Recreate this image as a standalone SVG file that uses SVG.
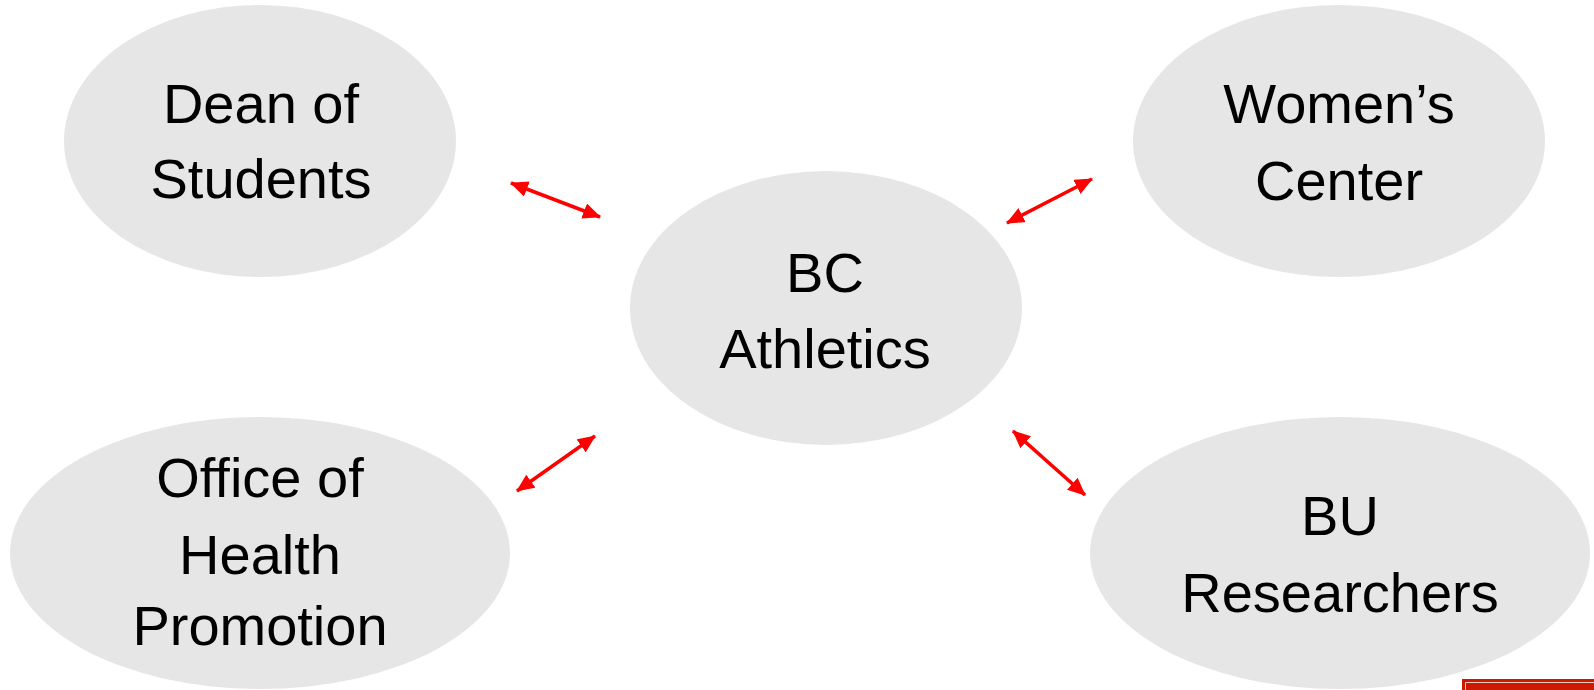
<svg xmlns="http://www.w3.org/2000/svg" width="1594" height="690" viewBox="0 0 1594 690">
<style>
.node ellipse{fill:#e6e6e6;stroke:none}
.node text{font-family:"Liberation Sans",Arial,sans-serif;font-size:56px;fill:#000;text-anchor:middle}
.conn line{stroke:#ff0000;stroke-width:3.5;marker-start:url(#ah);marker-end:url(#ah)}
</style>
<defs>
<marker id="ah" viewBox="0 0 18 16" markerWidth="18" markerHeight="16" refX="17" refY="8" markerUnits="userSpaceOnUse" orient="auto-start-reverse">
<path d="M0,0 L18,8 L0,16 z" fill="#ff0000"/>
</marker>
</defs>
<rect width="1594" height="690" fill="#ffffff"/>
<g id="dean" class="node">
<ellipse cx="260" cy="141" rx="196" ry="136"/>
<text x="261" y="123">Dean of</text>
<text x="261" y="198">Students</text>
</g>
<g id="womens" class="node">
<ellipse cx="1339" cy="141" rx="206" ry="136"/>
<text x="1339" y="123">Women’s</text>
<text x="1339" y="200">Center</text>
</g>
<g id="bc" class="node">
<ellipse cx="826" cy="308" rx="196" ry="137"/>
<text x="825" y="292">BC</text>
<text x="825" y="368">Athletics</text>
</g>
<g id="office" class="node">
<ellipse cx="260" cy="553" rx="250" ry="136"/>
<text x="260" y="497">Office of</text>
<text x="260" y="574">Health</text>
<text x="260" y="645">Promotion</text>
</g>
<g id="bu" class="node">
<ellipse cx="1340" cy="553" rx="250" ry="136"/>
<text x="1340" y="535">BU</text>
<text x="1340" y="612">Researchers</text>
</g>
<g id="connectors" class="conn">
<line x1="511" y1="183" x2="600" y2="217"/>
<line x1="1092" y1="179" x2="1007" y2="223"/>
<line x1="595" y1="436" x2="517" y2="491"/>
<line x1="1013" y1="431" x2="1085" y2="495"/>
</g>
<g id="corner">
<rect x="1462" y="679" width="132" height="11" fill="#cc1a00"/>
<path d="M1465.5,690 V682.5 H1594" fill="none" stroke="#f2c4bc" stroke-width="1"/>
</g>
</svg>
